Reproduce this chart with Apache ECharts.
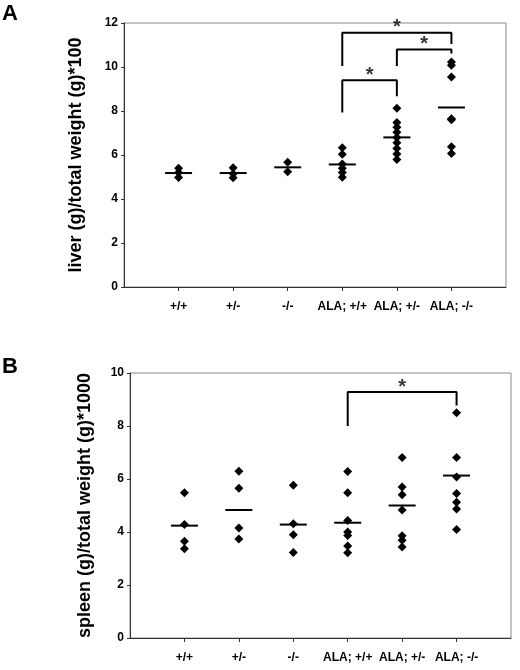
<!DOCTYPE html>
<html>
    <head>
        <meta charset="UTF-8">
        <title>liver / spleen weight</title>
        <script type="text/javascript" src="https://cdn.jsdelivr.net/npm/echarts@6/dist/echarts.min.js"></script>
        <style>
            html, body { margin: 0; padding: 0; background: #fff; }
        </style>
    </head>
    <body>
        <div id="main" style="width: 520px;height:670px;"></div>
        <script type="text/javascript">
            // groups on the x axis (placed at 1..6)
            var groups = ['+/+', '+/-', '-/-', 'ALA; +/+', 'ALA; +/-', 'ALA; -/-'];
            var groupPos = [1, 2, 3, 4, 5, 6];

            // panel A: liver (g)/total weight (g)*100
            var liverTicks = [0, 2, 4, 6, 8, 10, 12];
            var liverValues = [
                [5.4, 5.2, 4.98],
                [5.42, 5.15, 4.97],
                [5.67, 5.24],
                [6.33, 6.03, 5.59, 5.4, 5.2, 4.99],
                [8.12, 7.48, 7.26, 7.03, 6.79, 6.56, 6.3, 6.05, 5.8],
                [10.23, 10.08, 9.55, 7.65, 7.6, 6.38, 6.07]
            ];
            var liverMeans = [5.18, 5.18, 5.44, 5.57, 6.8, 8.16];
            // [from group, to group, bar height, left leg end, right leg end]
            var liverBrackets = [
                [4, 6, 11.56, 10.05, 11.05],
                [5, 6, 10.79, 10.04, 10.61],
                [4, 5, 9.4, 7.93, 8.67]
            ];

            // panel B: spleen (g)/total weight (g)*1000
            var spleenTicks = [0, 2, 4, 6, 8, 10];
            var spleenValues = [
                [5.48, 4.28, 3.65, 3.37],
                [6.29, 5.65, 4.15, 3.74],
                [5.76, 4.31, 3.9, 3.23],
                [6.28, 5.48, 4.43, 4.0, 3.87, 3.47, 3.22],
                [6.81, 5.7, 5.41, 4.83, 3.86, 3.69, 3.43],
                [8.5, 6.81, 6.08, 5.45, 5.12, 4.87, 4.09]
            ];
            var spleenMeans = [4.24, 4.83, 4.28, 4.35, 5.0, 6.13];
            var spleenBrackets = [
                [4, 6, 9.28, 8.0, 8.77]
            ];

            var font = '"Liberation Sans", Arial, sans-serif';

            function points(values) {
                var out = [];
                values.forEach(function (list, i) {
                    list.forEach(function (v) { out.push([groupPos[i], v]); });
                });
                return out;
            }

            function xAxisFor(idx) {
                return {
                    gridIndex: idx, type: 'value', min: 0, max: 7, interval: 1,
                    axisLine: { lineStyle: { color: '#333', width: 1 } },
                    axisTick: { show: true, customValues: groupPos, length: 4, inside: false,
                        lineStyle: { color: '#333' } },
                    axisLabel: {
                        customValues: groupPos, margin: 14,
                        color: '#000', fontFamily: font, fontWeight: 'bold', fontSize: 12,
                        formatter: function (v) { return groups[v - 1] || ''; }
                    },
                    splitLine: { show: false }
                };
            }

            function yAxisFor(idx, ticks, title, gap) {
                return {
                    gridIndex: idx, type: 'value', min: ticks[0], max: ticks[ticks.length - 1],
                    interval: 2,
                    name: title, nameLocation: 'middle', nameGap: gap, nameRotate: 90,
                    nameTextStyle: { color: '#000', fontFamily: font, fontWeight: 'bold', fontSize: 18 },
                    axisLine: { show: true, lineStyle: { color: '#333', width: 1 } },
                    axisTick: { show: true, length: 3, lineStyle: { color: '#333' } },
                    axisLabel: { margin: 6, color: '#000', fontFamily: font, fontWeight: 'bold', fontSize: 12 },
                    splitLine: { show: false }
                };
            }

            var series = [];

            function addPanel(idx, values, means, brackets) {
                series.push({
                    type: 'scatter', xAxisIndex: idx, yAxisIndex: idx,
                    symbol: 'diamond', symbolSize: 9,
                    itemStyle: { color: '#000', opacity: 1 },
                    data: points(values), z: 3
                });
                series.push({
                    type: 'scatter', xAxisIndex: idx, yAxisIndex: idx,
                    symbol: 'rect', symbolSize: [27, 2],
                    itemStyle: { color: '#000', opacity: 1 },
                    data: means.map(function (m, i) { return [groupPos[i], m]; }), z: 4
                });
                brackets.forEach(function (b) {
                    series.push({
                        type: 'line', xAxisIndex: idx, yAxisIndex: idx,
                        symbol: 'none', silent: true,
                        lineStyle: { color: '#000', width: 2 },
                        data: [[b[0], b[3]], [b[0], b[2]], [b[1], b[2]], [b[1], b[4]]]
                    });
                    series.push({
                        type: 'scatter', xAxisIndex: idx, yAxisIndex: idx,
                        symbolSize: 0, silent: true,
                        label: { show: true, position: 'top', distance: -5, formatter: '*',
                            color: '#000', fontFamily: font, fontWeight: 'bold', fontSize: 20 },
                        data: [[(b[0] + b[1]) / 2, b[2]]]
                    });
                });
            }

            addPanel(0, liverValues, liverMeans, liverBrackets);
            addPanel(1, spleenValues, spleenMeans, spleenBrackets);

            var myChart = echarts.init(document.getElementById('main'));
            var option = {
                animation: false,
                backgroundColor: '#fff',
                title: [
                    { text: 'A', left: 2, top: 3, padding: 0, textStyle: { fontFamily: font, fontWeight: 'bold', fontSize: 22, color: '#000' } },
                    { text: 'B', left: 2, top: 356, padding: 0, textStyle: { fontFamily: font, fontWeight: 'bold', fontSize: 22, color: '#000' } }
                ],
                grid: [
                    { left: 124, top: 23, width: 382, height: 264, show: true, borderColor: '#888', borderWidth: 1 },
                    { left: 130, top: 373, width: 381, height: 265, show: true, borderColor: '#888', borderWidth: 1 }
                ],
                xAxis: [xAxisFor(0), xAxisFor(1)],
                yAxis: [
                    yAxisFor(0, liverTicks, 'liver (g)/total weight (g)*100', 39),
                    yAxisFor(1, spleenTicks, 'spleen (g)/total weight (g)*1000', 36)
                ],
                series: series
            };
            myChart.setOption(option);
        </script>
    </body>
</html>
